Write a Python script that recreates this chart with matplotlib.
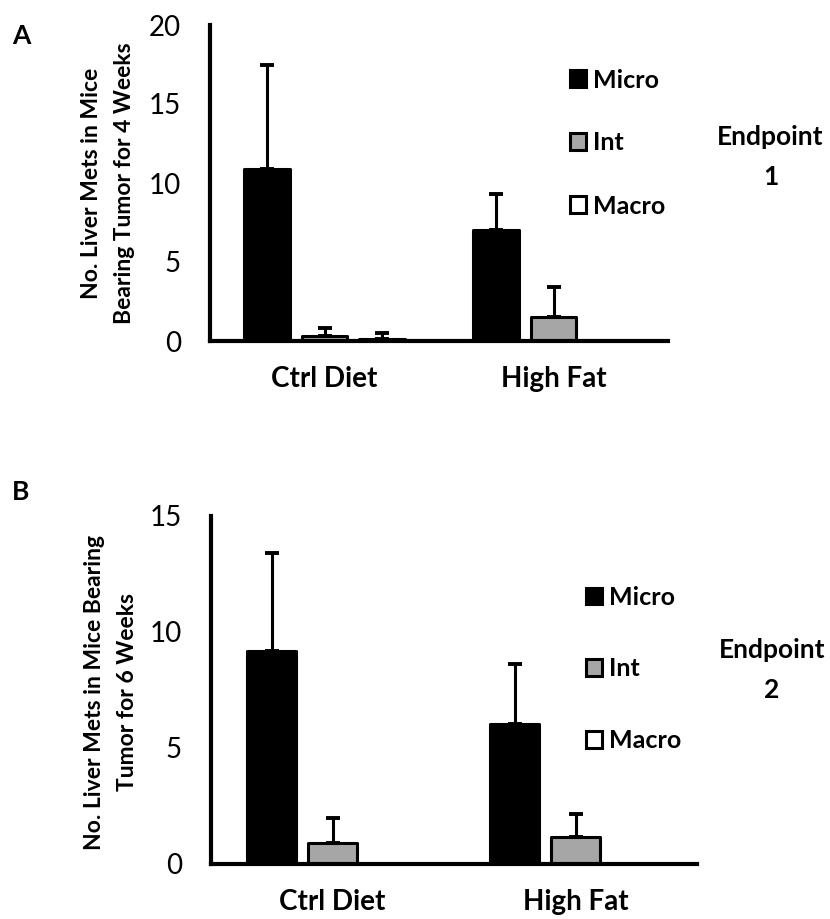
import numpy as np
import matplotlib.pyplot as plt
from matplotlib.patches import Patch

plt.rcParams['font.family'] = ['Lato', 'DejaVu Sans']

groups = ['Ctrl Diet', 'High Fat']
series = ['Micro', 'Int', 'Macro']
colors = ['#000000', '#a6a6a6', '#ffffff']

# endpoint 1: mice bearing tumor for 4 weeks
mean_4wk = {'Micro': [10.9, 7.05], 'Int': [0.3, 1.55], 'Macro': [0.15, 0.0]}
err_4wk = {'Micro': [6.6, 2.25], 'Int': [0.5, 1.85], 'Macro': [0.35, 0.0]}

# endpoint 2: mice bearing tumor for 6 weeks
mean_6wk = {'Micro': [9.17, 6.03], 'Int': [0.89, 1.17], 'Macro': [0.0, 0.0]}
err_6wk = {'Micro': [4.23, 2.57], 'Int': [1.11, 1.0], 'Macro': [0.0, 0.0]}

W, H = 830, 919
fig = plt.figure(figsize=(W / 100, H / 100), dpi=100)


def px_axes(left, top, right, bottom):
    return fig.add_axes([left / W, 1 - bottom / H, (right - left) / W, (bottom - top) / H])


def draw_panel(ax, means, errs, ymax, ystep):
    x = np.arange(len(groups))
    for i, name in enumerate(series):
        pos = x + (i - 1) * 0.25
        m = np.array(means[name])
        e = np.array(errs[name])
        ax.bar(pos, m, width=0.2, color=colors[i], edgecolor='black',
               linewidth=2.2, joinstyle='round', label=name, zorder=2)
        keep = e > 0
        ax.errorbar(pos[keep], m[keep], yerr=[np.zeros(keep.sum()), e[keep]],
                    fmt='none', ecolor='black', elinewidth=2.2, capsize=5,
                    capthick=2.8, zorder=1)
    ax.set_xlim(-0.5, 1.5)
    ax.set_ylim(0, ymax)
    ax.set_yticks(np.arange(0, ymax + 1, ystep))
    ax.set_xticks(x)
    ax.set_xticklabels(groups, fontsize=20, fontweight='bold')
    ax.tick_params(axis='y', length=0, pad=21, labelsize=20)
    ax.tick_params(axis='x', length=0, pad=18)
    for side in ['top', 'right']:
        ax.spines[side].set_visible(False)
    for side in ['left', 'bottom']:
        ax.spines[side].set_linewidth(3)
        ax.spines[side].set_capstyle('projecting')
    ax.set_facecolor('none')


def draw_legend(ax, x0, ymid, spacing):
    handles = [Patch(facecolor=c, edgecolor='black', linewidth=2.2, label=s)
               for s, c in zip(series, colors)]
    ax.legend(handles=handles, loc='center left',
              bbox_to_anchor=(x0 / W, 1 - ymid / H), bbox_transform=fig.transFigure,
              frameon=False, borderpad=0, borderaxespad=0, handlelength=0.65,
              handleheight=0.65, handletextpad=0.25, labelspacing=spacing,
              prop={'size': 18, 'weight': 'bold'})


def set_ylabel(ax, text, xc, yc):
    ax.set_ylabel(text, fontsize=16.5, fontweight='bold', linespacing=1.75,
                  va='center')
    ax.yaxis.set_label_coords(xc / W, 1 - yc / H, transform=fig.transFigure)


ax1 = px_axes(210, 25, 668, 341)
draw_panel(ax1, mean_4wk, err_4wk, 20, 5)
draw_legend(ax1, 570, 143, 1.6)
set_ylabel(ax1, 'No. Liver Mets in Mice\nBearing Tumor for 4 Weeks', 108, 183)
fig.text(770 / W, 1 - 137 / H, 'Endpoint', fontsize=19, fontweight='bold',
         ha='center', va='center')
fig.text(771 / W, 1 - 177 / H, '1', fontsize=19, fontweight='bold',
         ha='center', va='center')
fig.text(21 / W, 1 - 36 / H, 'A', fontsize=19, fontweight='bold',
         ha='center', va='center')

ax2 = px_axes(211, 516, 697, 864)
draw_panel(ax2, mean_6wk, err_6wk, 15, 5)
draw_legend(ax2, 586, 669, 1.95)
set_ylabel(ax2, 'No. Liver Mets in Mice Bearing\nTumor for 6 Weeks', 111, 692)
fig.text(772 / W, 1 - 650 / H, 'Endpoint', fontsize=19, fontweight='bold',
         ha='center', va='center')
fig.text(772 / W, 1 - 690 / H, '2', fontsize=19, fontweight='bold',
         ha='center', va='center')
fig.text(21 / W, 1 - 492 / H, 'B', fontsize=19, fontweight='bold',
         ha='center', va='center')

fig.savefig('out.png', dpi=100, facecolor='white')
